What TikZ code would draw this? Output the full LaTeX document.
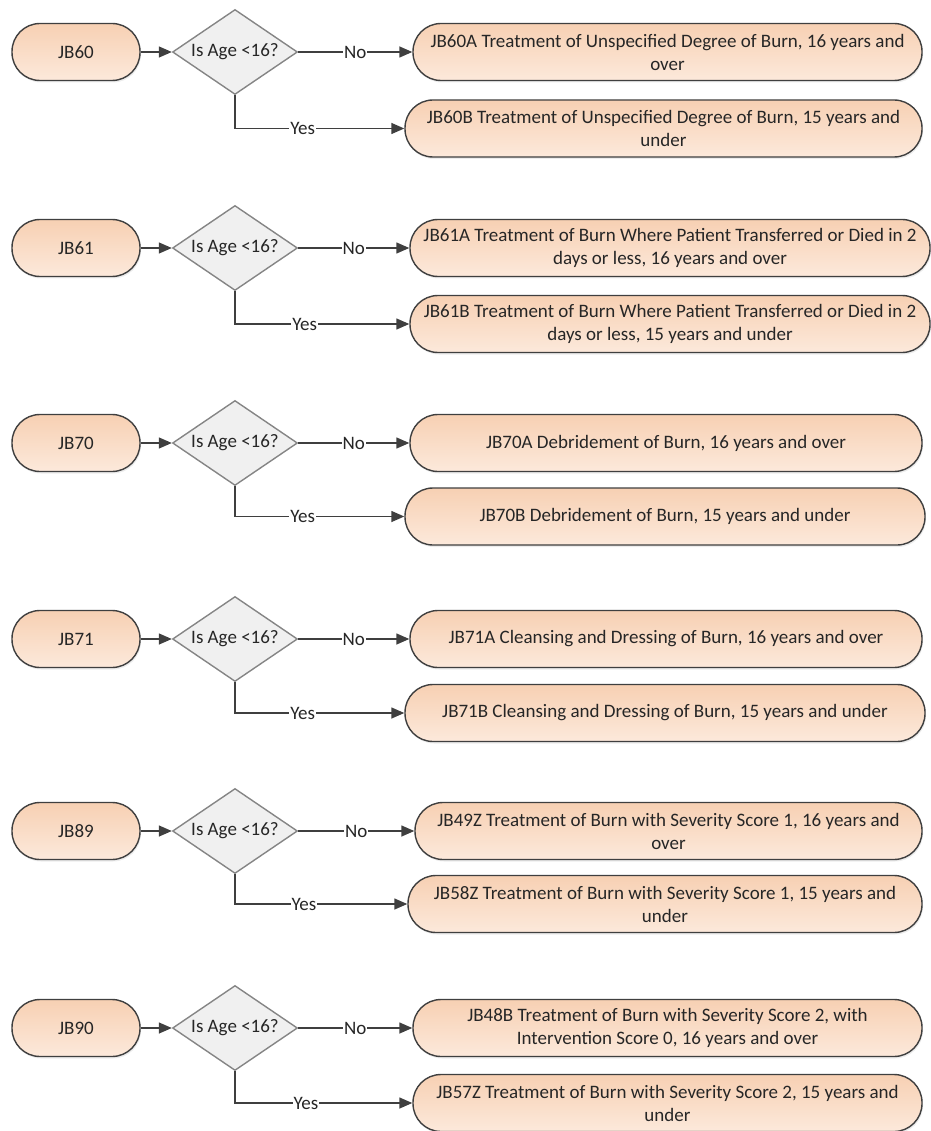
\documentclass[tikz,border=0pt]{standalone}
\usepackage{fontspec}
\setmainfont{Carlito}
\usetikzlibrary{positioning}
\usetikzlibrary{shapes.geometric}
\usetikzlibrary{arrows.meta}
\usetikzlibrary{shadows}

\definecolor{peachtop}{HTML}{F7D0B3}
\definecolor{peachbottom}{HTML}{FCE9DB}
\definecolor{edgegrey}{HTML}{3F3F3F}
\definecolor{testgrey}{HTML}{858585}
\definecolor{testfill}{HTML}{F0F0F0}
\definecolor{inkgrey}{HTML}{262626}

\begin{document}
\begin{tikzpicture}
	[x=1pt,y=-1pt,
	font=\fontsize{19}{23}\selectfont,
	code/.style={rectangle,rounded corners=28pt,draw=edgegrey,line width=1.4pt,
		top color=peachtop,bottom color=peachbottom,text=inkgrey,
		minimum width=128,minimum height=57,
		drop shadow={opacity=0.15,shadow xshift=1pt,shadow yshift=-2pt}},
	test/.style={diamond,aspect=1.47,draw=testgrey,line width=1.4pt,fill=testfill,text=inkgrey,
		minimum width=125,minimum height=85,inner sep=0pt},
	result/.style={code,align=center,inner sep=1pt},
	link/.style={draw=edgegrey,line width=1.4pt,-{Triangle[length=13pt,width=11pt]}},
	answer/.style={fill=white,inner sep=1pt,text=inkgrey}]

	\useasboundingbox (0,0) rectangle (930,1131);

	% Draw the JB60 block
	\draw node at (76,52) [code](jb60){JB60}
		node at (235,52) [test](q60){Is Age <16?}
		node at (667.5,52) [result,minimum width=509](jb60a){JB60A Treatment of Unspecified Degree of Burn, 16 years and\\over}
		node at (663.5,128.5) [result,minimum width=517](jb60b){JB60B Treatment of Unspecified Degree of Burn, 15 years and\\under};

	\draw[link] (jb60) -- (q60);
	\draw[link] (q60) -- node[answer]{No} (jb60a);
	\draw[link] (q60.south) |- node[answer,pos=0.7]{Yes} (jb60b);

	% Draw the JB61 block
	\draw node at (76,248) [code](jb61){JB61}
		node at (235,248) [test](q61){Is Age <16?}
		node at (670,248) [result,minimum width=520](jb61a){JB61A Treatment of Burn Where Patient Transferred or Died in 2\\days or less, 16 years and over}
		node at (670,324) [result,minimum width=520](jb61b){JB61B Treatment of Burn Where Patient Transferred or Died in 2\\days or less, 15 years and under};

	\draw[link] (jb61) -- (q61);
	\draw[link] (q61) -- node[answer]{No} (jb61a);
	\draw[link] (q61.south) |- node[answer,pos=0.7]{Yes} (jb61b);

	% Draw the JB70 block
	\draw node at (76,443) [code](jb70){JB70}
		node at (235,443) [test](q70){Is Age <16?}
		node at (666,443) [result,minimum width=512](jb70a){JB70A Debridement of Burn, 16 years and over}
		node at (665,516.5) [result,minimum width=520](jb70b){JB70B Debridement of Burn, 15 years and under};

	\draw[link] (jb70) -- (q70);
	\draw[link] (q70) -- node[answer]{No} (jb70a);
	\draw[link] (q70.south) |- node[answer,pos=0.7]{Yes} (jb70b);

	% Draw the JB71 block
	\draw node at (76,639) [code](jb71){JB71}
		node at (235,639) [test](q71){Is Age <16?}
		node at (666,639) [result,minimum width=512](jb71a){JB71A Cleansing and Dressing of Burn, 16 years and over}
		node at (665,713) [result,minimum width=520](jb71b){JB71B Cleansing and Dressing of Burn, 15 years and under};

	\draw[link] (jb71) -- (q71);
	\draw[link] (q71) -- node[answer]{No} (jb71a);
	\draw[link] (q71.south) |- node[answer,pos=0.7]{Yes} (jb71b);

	% Draw the JB89 block
	\draw node at (76,831) [code](jb89){JB89}
		node at (235,831) [test](q89){Is Age <16?}
		node at (668.5,831) [result,minimum width=507](jb49z){JB49Z Treatment of Burn with Severity Score 1, 16 years and\\over}
		node at (665,904) [result,minimum width=514](jb58z){JB58Z Treatment of Burn with Severity Score 1, 15 years and\\under};

	\draw[link] (jb89) -- (q89);
	\draw[link] (q89) -- node[answer]{No} (jb49z);
	\draw[link] (q89.south) |- node[answer,pos=0.7]{Yes} (jb58z);

	% Draw the JB90 block
	\draw node at (76,1028) [code](jb90){JB90}
		node at (235,1028) [test](q90){Is Age <16?}
		node at (667.5,1028) [result,minimum width=509](jb48b){JB48B Treatment of Burn with Severity Score 2, with\\Intervention Score 0, 16 years and over}
		node at (667.5,1103) [result,minimum width=509](jb57z){JB57Z Treatment of Burn with Severity Score 2, 15 years and\\under};

	\draw[link] (jb90) -- (q90);
	\draw[link] (q90) -- node[answer]{No} (jb48b);
	\draw[link] (q90.south) |- node[answer,pos=0.7]{Yes} (jb57z);
\end{tikzpicture}
\end{document}
